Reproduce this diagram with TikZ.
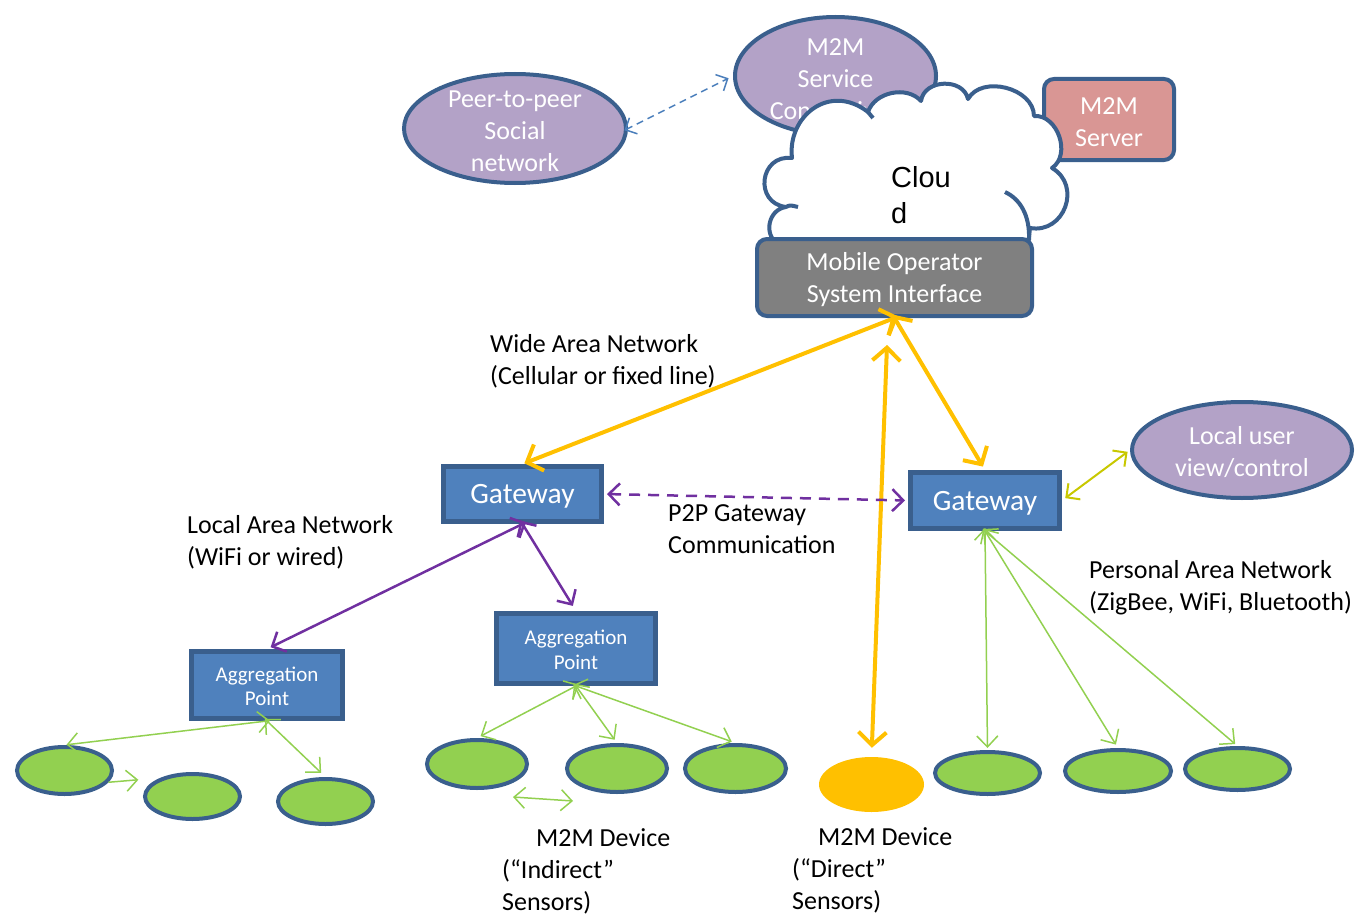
\documentclass[tikz,border=0pt]{standalone}
\usepackage{fontspec}
\setmainfont{Carlito}
\newfontfamily\arialf{Liberation Sans}
\usetikzlibrary{shapes.geometric,arrows.meta}
\definecolor{bord}{HTML}{3A5F8D}
\definecolor{lav}{HTML}{B3A2C7}
\definecolor{gblue}{HTML}{4F81BD}
\definecolor{pinkc}{HTML}{D99694}
\definecolor{grayc}{HTML}{808080}
\definecolor{grn}{HTML}{92D050}
\definecolor{orng}{HTML}{FFC000}
\definecolor{purp}{HTML}{7030A0}
\definecolor{ylw}{HTML}{C8C800}
\definecolor{dashblue}{HTML}{4A7EBB}
\tikzset{
  txt/.style={font=\fontsize{26}{32}\selectfont},
  lavell/.style={ellipse, fill=lav, draw=bord, line width=4pt, inner sep=0},
  wtxt/.style={txt, text=white, align=center, inner sep=0, yshift=-2.5pt},
  gwtxt/.style={wtxt, font=\fontsize{29.5}{34}\selectfont},
  aggtxt/.style={wtxt, yshift=1pt, font=\fontsize{21}{24.5}\selectfont},
  greenell/.style={ellipse, fill=grn, draw=bord, line width=4pt, inner sep=0},
  gwbox/.style={rectangle, fill=gblue, draw=bord, line width=5pt, inner sep=0},
  rbox/.style={rectangle, rounded corners=10pt, draw=bord, line width=4pt, inner sep=0},
  lbl/.style={txt, align=left, anchor=north west, inner sep=0},
  cloudline/.style={draw=bord, line width=4pt, line join=round},
  garr/.style={draw=grn, line width=1.5pt, {Straight Barb[length=11pt,width=21pt]}-{Straight Barb[length=11pt,width=21pt]}},
  parr/.style={draw=purp, line width=2.5pt, {Straight Barb[length=11pt,width=22pt]}-{Straight Barb[length=11pt,width=22pt]}},
  oarr/.style={draw=orng, line width=4pt, {Straight Barb[length=13pt,width=28pt]}-{Straight Barb[length=13pt,width=28pt]}},
}
\begin{document}
\begin{tikzpicture}[x=1pt,y=-1pt]
\useasboundingbox (0,0) rectangle (1362,915);
% top ellipses
\node[lavell, minimum width=222pt, minimum height=109pt,
  label={[wtxt]center:{Peer-to-peer\\Social\\network}}] (p2p) at (515,128.5) {};
\node[lavell, minimum width=201pt, minimum height=118pt,
  label={[wtxt, yshift=-2.5pt]center:{M2M\\Service\\Connectivity}}] (m2ms) at (835.5,76) {};
\node[rbox, fill=pinkc, minimum width=130pt, minimum height=81pt,
  label={[wtxt]center:{M2M\\Server}}] (srv) at (1109,119.5) {};
% cloud
\path[cloudline, fill=white]
  (778,244) to[bend left=70, looseness=1.2] (786,207)
  to[bend left=90, looseness=1.7] (792,158)
  .. controls (787,117) and (829,82) .. (868,112)
  to[bend left=60, looseness=1.0] (921,101)
  to[bend left=80, looseness=1.2] (968,99)
  to[bend left=75, looseness=1.05] (1034,116)
  to[bend left=75, looseness=1.1] (1052,168)
  to[bend left=80, looseness=1.4] (1030,228)
  -- (1028,246) -- cycle;
\draw[cloudline] (786,207) .. controls (790,205) .. (798,207);
\draw[cloudline] (868,112) -- (873,118);
\draw[cloudline] (1005,192) .. controls (1020,199) and (1030,215) .. (1029,240);
\node[font=\arialf\fontsize{29}{36}\selectfont, align=left, anchor=north west, inner sep=0] (cloudtxt) at (891,166) {Clou\\d};
\node[rbox, fill=grayc, minimum width=275pt, minimum height=77pt,
  label={[wtxt]center:{Mobile Operator\\System Interface}}] (mo) at (894.5,277.5) {};
% gateways
\node[gwbox, minimum width=158pt, minimum height=55pt,
  label={[gwtxt]center:Gateway}] (gw1) at (522.5,494) {};
\node[gwbox, minimum width=149pt, minimum height=56pt,
  label={[gwtxt]center:Gateway}] (gw2) at (985,500.5) {};
\node[lavell, minimum width=220pt, minimum height=96pt,
  label={[wtxt]center:{Local user\\view/control}}] (lu) at (1242,450) {};
% aggregation points
\node[gwbox, minimum width=151pt, minimum height=67pt,
  label={[aggtxt]center:{Aggregation\\Point}}] (agg1) at (267,685) {};
\node[gwbox, minimum width=159pt, minimum height=70pt,
  label={[aggtxt]center:{Aggregation\\Point}}] (agg2) at (576,648.5) {};
% devices
\node[greenell, minimum width=95pt, minimum height=47pt] (e1) at (64.5,770.5) {};
\node[greenell, minimum width=95pt, minimum height=45pt] (e2) at (192.5,796.5) {};
\node[greenell, minimum width=95pt, minimum height=45pt] (e3) at (325.5,801.5) {};
\node[greenell, minimum width=100pt, minimum height=48pt] (e4) at (477,764) {};
\node[greenell, minimum width=100pt, minimum height=47pt] (e5) at (617,768.5) {};
\node[greenell, minimum width=101pt, minimum height=47pt] (e6) at (735.5,768.5) {};
\node[greenell, minimum width=105pt, minimum height=42pt] (e7) at (987.5,773) {};
\node[greenell, minimum width=106pt, minimum height=42pt] (e8) at (1118,771) {};
\node[greenell, minimum width=105pt, minimum height=42pt] (e9) at (1237.5,769) {};
\node[ellipse, fill=orng, inner sep=0, minimum width=105pt, minimum height=55pt] (od) at (871.5,784.5) {};
% labels
\node[lbl] (wan) at (490,334) {Wide Area Network\\(Cellular or fixed line)};
\node[lbl] (lan) at (187,515) {Local Area Network\\(WiFi or wired)};
\node[lbl] (p2pl) at (668,504) {P2P Gateway\\Communication};
\node[lbl] (pan) at (1089,560) {Personal Area Network\\(ZigBee, WiFi, Bluetooth)};
\node[lbl] (ind) at (502,828) {\hspace*{34pt}M2M Device\\(“Indirect”\\Sensors)};
\node[lbl] (dir) at (792,827) {\hspace*{26pt}M2M Device\\(“Direct”\\Sensors)};
% coordinates for free ends
\coordinate (vtop) at (887,345);
\coordinate (sa) at (513,797);
\coordinate (sb) at (573,801);
% connectors
\draw[draw=dashblue, line width=1.5pt, dash pattern=on 7pt off 5pt, {Straight Barb[length=9pt,width=18pt]}-{Straight Barb[length=9pt,width=18pt]}, shorten <=-4pt, shorten >=5pt] (p2p.east) -- (m2ms.west);
\draw[oarr, shorten <=-4pt, shorten >=2pt] (mo.south) -- (gw1.north);
\draw[oarr, shorten >=9pt] (vtop) -- (od.north);
\draw[oarr, shorten <=-4pt, shorten >=4pt] (mo.south) -- (gw2.north);
\draw[parr, dash pattern=on 11pt off 8pt, shorten <=3pt, shorten >=3pt] (gw1.east) -- (gw2.west);
\draw[parr, shorten <=-4pt, shorten >=4pt] (gw1.south) -- (agg1.north);
\draw[parr, shorten <=-4pt, shorten >=6pt] (gw1.south) -- (agg2.north);
\draw[draw=ylw, line width=2pt, {Straight Barb[length=10pt,width=20pt]}-{Straight Barb[length=10pt,width=20pt]}, shorten <=4pt, shorten >=3pt] (gw2.east) -- (lu.west);
\draw[garr, shorten <=-3pt, shorten >=2pt] (agg1.south) -- (e1.north);
\draw[garr, shorten <=-3pt, shorten >=6pt] (agg1.south) -- (e3.north);
\draw[draw=grn, line width=1.5pt, -{Straight Barb[length=11pt,width=21pt]}, shorten >=22pt] (e1.-15) -- (e2.150);
\draw[garr, shorten <=-3pt, shorten >=4pt] (agg2.south) -- (e4.north);
\draw[garr, shorten <=-3pt, shorten >=4pt] (agg2.south) -- (e5.north);
\draw[garr, shorten <=-3pt, shorten >=4pt] (agg2.south) -- (e6.north);
\draw[garr] (sa) -- (sb);
\draw[garr, shorten <=-3pt, shorten >=2pt] (gw2.south) -- (e7.north);
\draw[garr, shorten <=-3pt, shorten >=4pt] (gw2.south) -- (e8.north);
\draw[garr, shorten <=-3pt, shorten >=3pt] (gw2.south) -- (e9.north);
\end{tikzpicture}
\end{document}
